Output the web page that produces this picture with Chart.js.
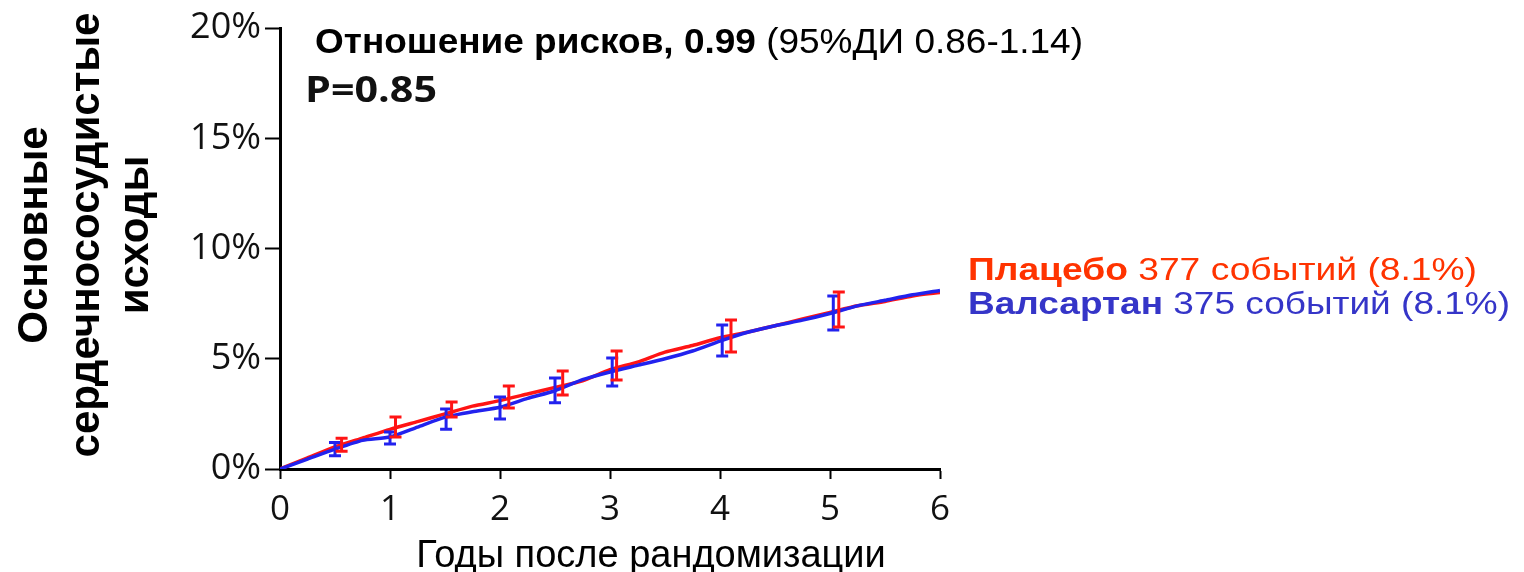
<!DOCTYPE html>
<html>
<head>
<meta charset="utf-8">
<script src="https://cdn.jsdelivr.net/npm/chart.js@4.4.1/dist/chart.umd.min.js"></script>
<style>
  html, body { margin: 0; padding: 0; background: #fff; }
  #wrap { position: relative; width: 1524px; height: 572px; }
</style>
</head>
<body>
<div id="wrap"><canvas id="c"></canvas></div>
<script>
// Kaplan-Meier style cumulative incidence (% of patients)
const years = [0, 0.25, 0.5, 0.75, 1, 1.25, 1.5, 1.75, 2, 2.25, 2.5, 2.75, 3, 3.25, 3.5, 3.75, 4, 4.25, 4.5, 4.75, 5, 5.25, 5.5, 5.75, 6];
const placebo   = [0, 0.5, 1.0, 1.4, 1.8, 2.15, 2.5, 2.85, 3.1, 3.4, 3.7, 4.0, 4.5, 4.85, 5.3, 5.6, 5.95, 6.2, 6.5, 6.8, 7.1, 7.4, 7.6, 7.85, 8.0];
const valsartan = [0, 0.45, 0.9, 1.3, 1.45, 1.9, 2.35, 2.6, 2.8, 3.2, 3.55, 4.05, 4.4, 4.7, 5.0, 5.35, 5.8, 6.2, 6.5, 6.75, 7.05, 7.4, 7.65, 7.9, 8.1];

// 95% CI bars
const barYearsPlacebo   = [0.56, 1.05, 1.56, 2.08, 2.57, 3.06, 4.1, 5.08];
const barLowPlacebo     = [0.8, 1.45, 2.36, 2.77, 3.36, 4.04, 5.31, 6.44];
const barHighPlacebo    = [1.4, 2.36, 3.04, 3.76, 4.44, 5.35, 6.76, 8.03];
const barYearsValsartan = [0.5, 1.0, 1.51, 2.0, 2.5, 3.02, 4.02, 5.03];
const barLowValsartan   = [0.6, 1.13, 1.8, 2.27, 3.0, 3.76, 5.12, 6.3];
const barHighValsartan  = [1.2, 1.68, 2.72, 3.27, 4.13, 5.03, 6.53, 7.85];

const xTicks = [0, 1, 2, 3, 4, 5, 6];
const yTicks = [0, 5, 10, 15, 20];

const red = '#ff1414';
const blue = '#2222ee';
const redText = '#ff3300';
const blueText = '#3535c8';
const arial = '"Liberation Sans", Arial, sans-serif';
const tickFont = '"Open Sans", sans-serif';

const pts = (xs, ys) => xs.map((x, i) => ({ x, y: ys[i] }));

// draws the confidence interval bars via the chart scales
const errorBars = {
    id: 'errorBars',
    afterDatasetsDraw(chart) {
        const { ctx, scales: { x, y } } = chart;
        const draw = (xs, lo, hi, color) => {
            ctx.save();
            ctx.strokeStyle = color;
            ctx.lineWidth = 3;
            xs.forEach((t, i) => {
                const px = x.getPixelForValue(t);
                const y1 = y.getPixelForValue(lo[i]);
                const y2 = y.getPixelForValue(hi[i]);
                ctx.beginPath();
                ctx.moveTo(px, y1); ctx.lineTo(px, y2);
                ctx.moveTo(px - 6, y1); ctx.lineTo(px + 6, y1);
                ctx.moveTo(px - 6, y2); ctx.lineTo(px + 6, y2);
                ctx.stroke();
            });
            ctx.restore();
        };
        draw(barYearsValsartan, barLowValsartan, barHighValsartan, blue);
        draw(barYearsPlacebo, barLowPlacebo, barHighPlacebo, red);
    }
};

// text runs squeezed/stretched to a target width
function drawRuns(ctx, runs, x, y, width) {
    let total = 0;
    runs.forEach(r => { ctx.font = r.font; total += ctx.measureText(r.text).width; });
    const k = width / total;
    ctx.save();
    ctx.translate(x, y);
    ctx.scale(k, 1);
    let cx = 0;
    runs.forEach(r => {
        ctx.font = r.font;
        ctx.fillStyle = r.color;
        ctx.fillText(r.text, cx, 0);
        cx += ctx.measureText(r.text).width;
    });
    ctx.restore();
}

const labels = {
    id: 'labels',
    afterDraw(chart) {
        const ctx = chart.ctx;
        ctx.save();
        ctx.textBaseline = 'alphabetic';
        ctx.textAlign = 'left';

        drawRuns(ctx, [
            { text: 'Отношение рисков, 0.99', font: 'bold 35px ' + arial, color: '#000' },
            { text: ' (95%ДИ 0.86-1.14)', font: '35px ' + arial, color: '#000' }
        ], 315, 53, 768);
        drawRuns(ctx, [{ text: 'P=0.85', font: 'bold 36px ' + tickFont, color: '#111' }], 305, 102, 132);

        drawRuns(ctx, [
            { text: 'Плацебо', font: 'bold 32px ' + arial, color: redText },
            { text: ' 377 событий (8.1%)', font: '32px ' + arial, color: redText }
        ], 968, 280, 509);
        drawRuns(ctx, [
            { text: 'Валсартан', font: 'bold 32px ' + arial, color: blueText },
            { text: ' 375 событий (8.1%)', font: '32px ' + arial, color: blueText }
        ], 968, 314, 542);

        // x axis title
        ctx.textAlign = 'center';
        ctx.fillStyle = '#000';
        ctx.font = '38px ' + arial;
        ctx.fillText('Годы после рандомизации', 651, 567);

        // y axis title, three rotated lines
        ctx.font = 'bold 42px ' + arial;
        const yLines = ['Основные', 'сердечнососудистые', 'исходы'];
        const baseX = [47, 99, 148];
        yLines.forEach((t, i) => {
            ctx.save();
            ctx.translate(baseX[i], 235);
            ctx.rotate(-Math.PI / 2);
            ctx.fillText(t, 0, 0);
            ctx.restore();
        });
        ctx.restore();
    }
};

new Chart(document.getElementById('c'), {
    type: 'line',
    data: {
        datasets: [
            {
                label: 'Валсартан',
                data: pts(years, valsartan),
                borderColor: blue,
                borderWidth: 3.5,
                pointRadius: 0,
                tension: 0.2
            },
            {
                label: 'Плацебо',
                data: pts(years, placebo),
                borderColor: red,
                borderWidth: 3.5,
                pointRadius: 0,
                tension: 0.2
            }
        ]
    },
    options: {
        responsive: true,
        maintainAspectRatio: false,
        animation: false,
        layout: { padding: { top: 28, right: 584, left: 0, bottom: 0 } },
        plugins: { legend: { display: false }, tooltip: { enabled: false } },
        scales: {
            x: {
                type: 'linear',
                min: 0,
                max: 6,
                afterBuildTicks: s => { s.ticks = xTicks.map(v => ({ value: v })); },
                afterFit: s => { s.height = 103; },
                border: { color: '#000', width: 3 },
                grid: { drawOnChartArea: false, tickLength: 10, tickColor: '#000', tickWidth: 2 },
                ticks: { color: '#111', padding: 10, maxRotation: 0, font: { family: tickFont, size: 35 } }
            },
            y: {
                min: 0,
                max: 20,
                afterBuildTicks: s => { s.ticks = yTicks.map(v => ({ value: v })); },
                afterFit: s => { s.width = 280; },
                border: { color: '#000', width: 3 },
                grid: { drawOnChartArea: false, tickLength: 15, tickColor: '#000', tickWidth: 2 },
                ticks: { color: '#111', padding: 4, font: { family: tickFont, size: 36 }, callback: v => v + '%' }
            }
        }
    },
    plugins: [errorBars, labels]
});
</script>
</body>
</html>
